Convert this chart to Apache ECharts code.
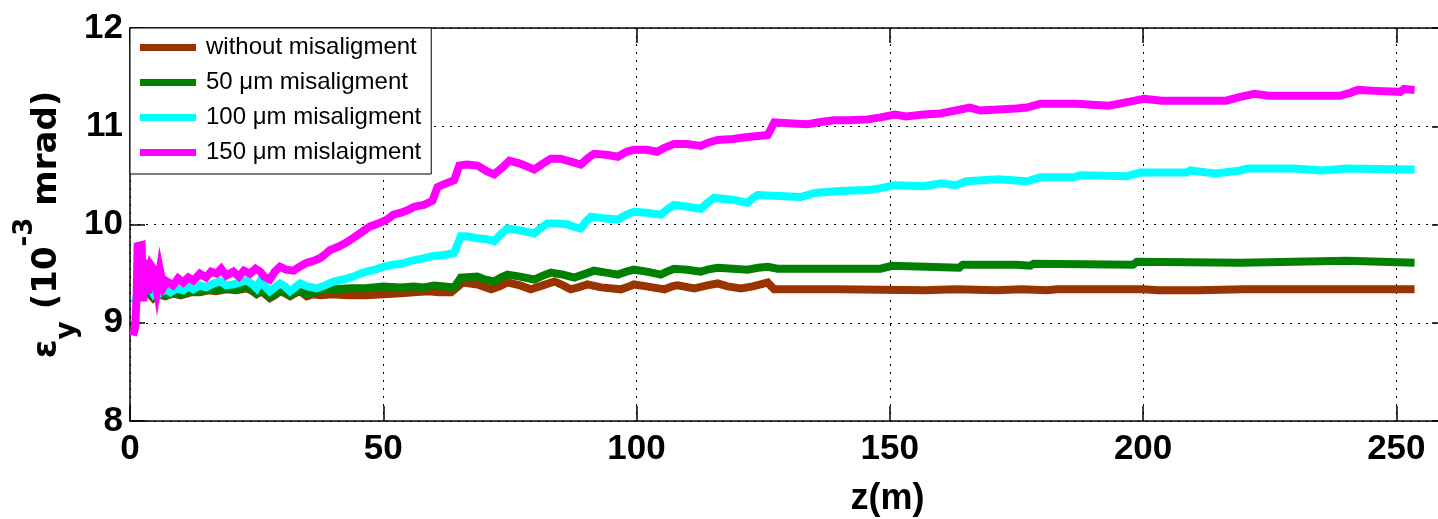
<!DOCTYPE html>
<html>
<head>
<meta charset="utf-8">
<script src="https://cdn.jsdelivr.net/npm/echarts@6/dist/echarts.min.js"></script>
<style>
  html, body { margin: 0; padding: 0; background: #fff; }
  #chart { width: 1438px; height: 519px; }
</style>
</head>
<body>
<div id="chart"></div>
<script>
// Vertical emittance along the line, for several quadrupole misalignments.
const seriesNames = [
  'without misaligment',
  '50 \u03bcm misaligment',
  '100 \u03bcm misaligment',
  '150 \u03bcm mislaigment'
];
const seriesColors = ['#993300', '#008000', '#00ffff', '#ff00ff'];

const xTicks = [0, 50, 100, 150, 200, 250];
const yTicks = [8, 9, 10, 11, 12];

// z positions (m) and emittance values (10^-3 mrad)
const zNone = [1.0, 2.5, 3.9, 4.6, 5.5, 7, 8.5, 10, 12, 13.8, 15.5, 17, 19, 21, 23.1, 24.2, 25, 26, 27.6, 28.6, 29.6, 30.6, 31.6, 32.6, 33.6, 34.9, 36.2, 37.6, 40, 43, 46.7, 50, 53.5, 56, 58.8, 61, 63.4, 65.7, 68.6, 71.3, 73, 74.5, 77, 79.1, 81.5, 83.8, 85.5, 87, 88.5, 90.3, 93, 96.9, 98.5, 99.5, 102, 105.5, 107, 108.1, 111.4, 114, 116, 118, 120.6, 123, 124.5, 125.9, 126.6, 127.2, 140, 156.7, 163, 171, 176, 181, 183, 189, 200, 203, 211, 220, 253.6];
const epsNone = [9.2, 9.4, 9.29, 9.25, 9.29, 9.27, 9.30, 9.28, 9.31, 9.31, 9.33, 9.32, 9.34, 9.33, 9.35, 9.32, 9.29, 9.32, 9.25, 9.28, 9.32, 9.30, 9.27, 9.30, 9.32, 9.27, 9.29, 9.28, 9.29, 9.28, 9.28, 9.29, 9.30, 9.31, 9.32, 9.31, 9.31, 9.41, 9.39, 9.34, 9.37, 9.41, 9.38, 9.34, 9.38, 9.42, 9.38, 9.34, 9.36, 9.39, 9.36, 9.34, 9.37, 9.39, 9.37, 9.34, 9.37, 9.38, 9.35, 9.38, 9.40, 9.37, 9.35, 9.37, 9.39, 9.41, 9.37, 9.34, 9.34, 9.33, 9.34, 9.33, 9.34, 9.33, 9.34, 9.34, 9.34, 9.33, 9.33, 9.34, 9.34];

const z50 = [1.0, 2.5, 3.9, 4.6, 5.5, 7, 8.5, 10, 12, 13.8, 15.5, 17, 19, 21, 23.1, 24.2, 25, 26, 27.6, 28.6, 29.6, 30.6, 31.6, 32.6, 33.6, 34.9, 36.2, 37.6, 40, 43.5, 46, 50, 53.5, 56, 58, 60.1, 62, 64, 65.3, 68.6, 70, 71.9, 73.2, 74.5, 77, 79.8, 81.5, 83.1, 85.5, 87.7, 90, 91.6, 94, 96.3, 98, 99.5, 102, 104.8, 106, 107.4, 110, 112.7, 114, 116, 119, 121.9, 124, 125.9, 127.8, 135, 148.2, 150.4, 163.7, 164.4, 175, 177.7, 178.4, 198, 198.8, 219.2, 240.2, 253.6];
const eps50 = [9.2, 9.4, 9.30, 9.26, 9.30, 9.28, 9.31, 9.29, 9.32, 9.32, 9.34, 9.33, 9.35, 9.34, 9.36, 9.33, 9.30, 9.33, 9.26, 9.29, 9.33, 9.31, 9.28, 9.31, 9.33, 9.29, 9.31, 9.33, 9.34, 9.35, 9.35, 9.37, 9.36, 9.37, 9.36, 9.38, 9.37, 9.36, 9.46, 9.47, 9.44, 9.42, 9.46, 9.49, 9.47, 9.44, 9.48, 9.51, 9.49, 9.46, 9.50, 9.53, 9.51, 9.49, 9.52, 9.54, 9.52, 9.49, 9.52, 9.55, 9.54, 9.52, 9.54, 9.56, 9.55, 9.54, 9.56, 9.57, 9.55, 9.55, 9.55, 9.58, 9.56, 9.59, 9.59, 9.58, 9.60, 9.59, 9.62, 9.61, 9.63, 9.61];

const z100 = [1.0, 2.5, 3.9, 4.6, 5.3, 5.9, 7, 8, 9.2, 10.5, 11.5, 12.5, 13.8, 15, 16.5, 17.8, 19, 20.4, 21.7, 23.1, 24.2, 25, 25.7, 26.5, 27.6, 28.6, 29.6, 30.6, 31.6, 32.6, 33.6, 35, 36.9, 38.5, 40.2, 42, 44.1, 45.5, 46.7, 48.3, 50, 51.8, 53.5, 55.5, 57.4, 59.9, 62, 64, 65.3, 66.5, 68.6, 70.5, 71.9, 73.2, 74.5, 77, 79.8, 81, 82.4, 84.5, 86.4, 88, 89, 90, 91, 94, 96.3, 98, 99.5, 102, 104.8, 106, 107.4, 110, 112.7, 114, 115.3, 119.3, 121.9, 123, 123.9, 128, 132.4, 135.1, 140, 145.6, 148.2, 151, 156.7, 160.2, 163, 165.1, 171.4, 177, 179.8, 186.2, 187.6, 196.7, 199.5, 208.6, 209.3, 214.2, 219.2, 220.6, 229.7, 235.3, 240.2, 253.6];
const eps100 = [9.2, 9.5, 9.36, 9.30, 9.35, 9.30, 9.34, 9.31, 9.35, 9.33, 9.37, 9.34, 9.38, 9.36, 9.40, 9.42, 9.38, 9.39, 9.41, 9.43, 9.39, 9.35, 9.42, 9.38, 9.32, 9.36, 9.40, 9.37, 9.32, 9.36, 9.40, 9.37, 9.35, 9.38, 9.42, 9.44, 9.47, 9.50, 9.52, 9.54, 9.57, 9.59, 9.60, 9.63, 9.65, 9.68, 9.69, 9.71, 9.88, 9.88, 9.86, 9.85, 9.83, 9.90, 9.96, 9.94, 9.91, 9.96, 10.01, 10.01, 10.00, 9.97, 9.96, 10.03, 10.08, 10.06, 10.05, 10.10, 10.13, 10.12, 10.10, 10.15, 10.20, 10.18, 10.16, 10.22, 10.27, 10.25, 10.22, 10.27, 10.30, 10.29, 10.28, 10.32, 10.34, 10.35, 10.37, 10.40, 10.39, 10.42, 10.40, 10.44, 10.46, 10.44, 10.48, 10.48, 10.50, 10.49, 10.53, 10.53, 10.55, 10.52, 10.55, 10.57, 10.57, 10.55, 10.57, 10.56];

const z150 = [0.6, 1.0, 1.3, 1.5, 2.3, 2.6, 3.1, 3.6, 4.2, 4.6, 5.3, 5.9, 6.6, 7.3, 8.5, 9.5, 10.5, 11.5, 12.5, 13.8, 15, 16, 17.1, 18, 19, 20.4, 21.5, 22.5, 23.7, 24.8, 25.7, 26.5, 27.6, 28.6, 29.6, 30.8, 32.3, 33.5, 34.9, 36.2, 37.6, 38.6, 39.5, 41, 42.8, 44, 45.4, 46.5, 47.4, 49, 50.7, 52, 53.5, 55, 56.1, 58, 59.7, 60.7, 62, 64, 65, 66.5, 68.6, 70.5, 71.9, 73.5, 74.9, 77, 79.8, 81.5, 83.1, 85, 87, 89, 90.5, 91.6, 94, 96.3, 98, 99.5, 102, 104.1, 105.5, 107.4, 110, 112.7, 114, 116, 119, 121.9, 124, 125.9, 126.6, 127.2, 130, 133.8, 136, 139, 142, 145.6, 148.2, 151, 153.2, 156.7, 160, 163, 165.8, 167.9, 171.4, 175, 177, 179.8, 186.9, 193.2, 197.4, 200.2, 203.7, 216.4, 219.2, 222, 224.8, 238.8, 240.9, 242.4, 245.9, 250.8, 251.5, 253.6];
const eps150 = [8.87, 8.95, 9.25, 9.78, 9.79, 9.22, 9.64, 9.30, 9.58, 9.55, 9.33, 9.54, 9.36, 9.42, 9.38, 9.45, 9.41, 9.46, 9.43, 9.50, 9.46, 9.52, 9.50, 9.55, 9.48, 9.52, 9.47, 9.53, 9.50, 9.55, 9.52, 9.47, 9.44, 9.52, 9.57, 9.54, 9.53, 9.57, 9.61, 9.63, 9.66, 9.70, 9.74, 9.77, 9.82, 9.86, 9.91, 9.95, 9.98, 10.01, 10.05, 10.10, 10.12, 10.15, 10.18, 10.20, 10.24, 10.38, 10.41, 10.45, 10.60, 10.61, 10.60, 10.54, 10.51, 10.58, 10.65, 10.62, 10.56, 10.62, 10.67, 10.67, 10.64, 10.61, 10.68, 10.72, 10.71, 10.69, 10.74, 10.76, 10.76, 10.74, 10.78, 10.82, 10.82, 10.80, 10.83, 10.86, 10.87, 10.89, 10.90, 10.91, 10.98, 11.04, 11.03, 11.02, 11.04, 11.06, 11.06, 11.07, 11.09, 11.12, 11.10, 11.12, 11.13, 11.16, 11.19, 11.16, 11.17, 11.18, 11.19, 11.23, 11.23, 11.21, 11.25, 11.28, 11.26, 11.26, 11.30, 11.33, 11.31, 11.31, 11.34, 11.37, 11.36, 11.35, 11.38, 11.37];

const zSets = [zNone, z50, z100, z150];
const epsSets = [epsNone, eps50, eps100, eps150];

const tickFont = "'Liberation Sans Narrow', 'Liberation Sans', Arial, sans-serif";

function pairs(zs, vs) {
  return zs.map((z, i) => [z, vs[i]]);
}

const chart = echarts.init(document.getElementById('chart'), null, { renderer: 'canvas' });

const dotted = { color: '#000', width: 1, type: [2, 6] };
const frameLine = { show: true, onZero: false, lineStyle: { color: '#000', width: 1.5 } };
const frameTick = { show: true, inside: true, length: 15, lineStyle: { color: '#000', width: 1.5 } };

const option = {
  animation: false,
  backgroundColor: '#fff',
  grid: {
    left: 130, top: 28, width: 1317, height: 393,
    containLabel: false, outerBoundsMode: 'none'
  },
  legend: {
    orient: 'vertical',
    left: 130, top: 28,
    padding: [6, 10, 8, 10],
    itemGap: 8,
    itemWidth: 56, itemHeight: 7,
    icon: 'rect',
    backgroundColor: '#fff',
    borderColor: '#000', borderWidth: 1,
    textStyle: {
      fontFamily: tickFont, fontSize: 24, color: '#000',
      lineHeight: 27, padding: [0, 0, 0, 5]
    },
    data: seriesNames
  },
  xAxis: [{
    type: 'value', min: 0, max: 260, interval: 50,
    name: 'z(m)', nameLocation: 'middle', nameGap: 60,
    nameTextStyle: {
      fontFamily: tickFont, fontWeight: 'bold', fontSize: 36, color: '#000',
      padding: [0, 0, 0, 198]
    },
    axisLine: frameLine,
    axisTick: frameTick,
    axisLabel: {
      fontFamily: tickFont, fontWeight: 'bold', fontSize: 35, color: '#000',
      margin: 11, showMaxLabel: false,
      formatter: v => (xTicks.indexOf(v) >= 0 ? String(v) : '')
    },
    splitLine: { show: true, lineStyle: dotted }
  }, {
    type: 'value', min: 0, max: 260, interval: 50, position: 'top',
    axisLine: frameLine,
    axisTick: frameTick,
    axisLabel: { show: false },
    splitLine: { show: false }
  }],
  yAxis: [{
    type: 'value', min: 8, max: 12, interval: 1,
    name: '{m|\u03b5}{sub|y}{m| (10}{sup|-3}{m| mrad)}',
    nameLocation: 'middle', nameRotate: 90, nameGap: 48,
    nameMoveOverlap: false,
    nameTextStyle: {
      color: '#000',
      rich: {
        m: { fontFamily: 'DejaVu Sans', fontWeight: 'bold', fontSize: 34, lineHeight: 70, color: '#000' },
        sub: { fontFamily: 'DejaVu Sans', fontWeight: 'bold', fontSize: 28, lineHeight: 36, verticalAlign: 'bottom', color: '#000' },
        sup: { fontFamily: 'DejaVu Sans', fontWeight: 'bold', fontSize: 26, lineHeight: 24, verticalAlign: 'top', color: '#000' }
      }
    },
    axisLine: frameLine,
    axisTick: frameTick,
    axisLabel: {
      fontFamily: tickFont, fontWeight: 'bold', fontSize: 35, color: '#000', margin: 7,
      formatter: v => (yTicks.indexOf(v) >= 0 ? String(v) : '')
    },
    splitLine: { show: true, lineStyle: dotted }
  }, {
    type: 'value', min: 8, max: 12, interval: 1, position: 'right',
    axisLine: frameLine,
    axisTick: frameTick,
    axisLabel: { show: false },
    splitLine: { show: false }
  }],
  series: seriesNames.map((name, i) => ({
    name: name,
    type: 'line',
    xAxisIndex: 0, yAxisIndex: 0,
    showSymbol: false,
    symbol: 'none',
    color: seriesColors[i],
    lineStyle: { color: seriesColors[i], width: 8, join: 'miter' },
    data: pairs(zSets[i], epsSets[i])
  }))
};

chart.setOption(option);
</script>
</body>
</html>
